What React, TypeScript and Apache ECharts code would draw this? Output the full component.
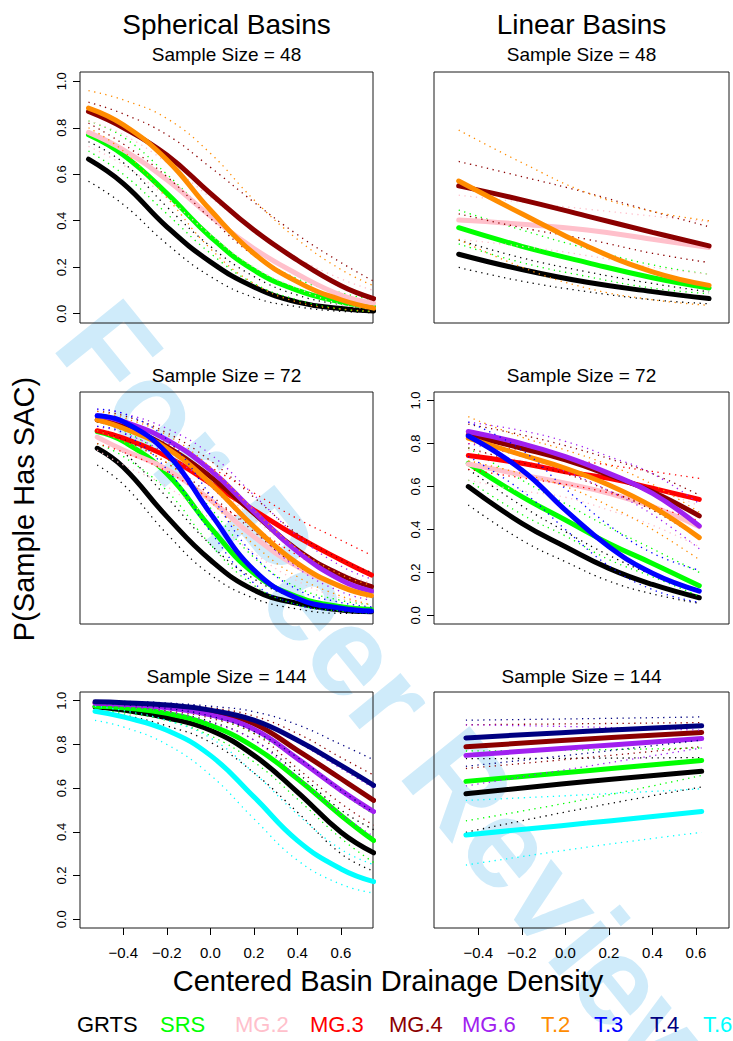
import React, { useEffect, useRef } from "react";
import * as echarts from "echarts";

// ---------- data ----------
const methods = ["GRTS", "SRS", "MG.2", "MG.3", "MG.4", "MG.6", "T.2", "T.3", "T.4", "T.6"];
const methodColors = ["#000000", "#00FF00", "#FFC0CB", "#FF0000", "#8B0000", "#A020F0", "#FF8C00", "#0000FF", "#000080", "#00FFFF"];
const columnTitles = ["Spherical Basins", "Linear Basins"];
const sampleSizes = [48, 72, 144];
const yTicks = [0, 0.2, 0.4, 0.6, 0.8, 1.0];
const xTicks = [-0.4, -0.2, 0, 0.2, 0.4, 0.6];

// Spherical, n = 48
const sph48X = [-0.56, -0.4, -0.2, 0, 0.2, 0.4, 0.6, 0.75];
const sph48Fit: Record<string, number[]> = {
  GRTS: [0.665, 0.56, 0.374, 0.223, 0.115, 0.05, 0.022, 0.012],
  SRS: [0.77, 0.683, 0.518, 0.331, 0.187, 0.1, 0.05, 0.029],
  "MG.2": [0.78, 0.705, 0.576, 0.42, 0.28, 0.17, 0.08, 0.045],
  "MG.4": [0.87, 0.8, 0.683, 0.518, 0.36, 0.23, 0.12, 0.065],
  "T.2": [0.885, 0.813, 0.662, 0.446, 0.259, 0.137, 0.06, 0.024],
};
const sph48Hi: Record<string, number[]> = {
  GRTS: [0.74, 0.65, 0.46, 0.29, 0.16, 0.08, 0.04, 0.03],
  SRS: [0.83, 0.76, 0.6, 0.42, 0.26, 0.15, 0.09, 0.06],
  "MG.2": [0.83, 0.77, 0.65, 0.5, 0.36, 0.24, 0.15, 0.1],
  "MG.4": [0.91, 0.86, 0.77, 0.63, 0.48, 0.34, 0.22, 0.14],
  "T.2": [0.96, 0.92, 0.84, 0.69, 0.49, 0.32, 0.19, 0.12],
};
const sph48Lo: Record<string, number[]> = {
  GRTS: [0.57, 0.47, 0.3, 0.16, 0.07, 0.03, 0.01, 0.005],
  SRS: [0.7, 0.6, 0.43, 0.26, 0.13, 0.06, 0.02, 0.01],
  "MG.2": [0.72, 0.64, 0.5, 0.34, 0.2, 0.11, 0.04, 0.02],
  "MG.4": [0.82, 0.73, 0.59, 0.41, 0.25, 0.14, 0.06, 0.03],
  "T.2": [0.8, 0.7, 0.5, 0.28, 0.13, 0.05, 0.02, 0.01],
};

// Linear, n = 48
const lin48X = [-0.49, -0.2, 0.1, 0.4, 0.66];
const lin48Fit: Record<string, number[]> = {
  GRTS: [0.256, 0.19, 0.135, 0.095, 0.065],
  SRS: [0.37, 0.29, 0.22, 0.155, 0.111],
  "MG.2": [0.403, 0.385, 0.36, 0.32, 0.285],
  "MG.4": [0.55, 0.49, 0.42, 0.35, 0.292],
  "T.2": [0.571, 0.43, 0.29, 0.18, 0.122],
};
const lin48Hi: Record<string, number[]> = {
  GRTS: [0.317, 0.24, 0.18, 0.13, 0.094],
  SRS: [0.446, 0.36, 0.28, 0.21, 0.17],
  "MG.2": [0.51, 0.48, 0.45, 0.42, 0.395],
  "MG.4": [0.655, 0.59, 0.52, 0.44, 0.374],
  "T.2": [0.79, 0.65, 0.52, 0.44, 0.4],
};
const lin48Lo: Record<string, number[]> = {
  GRTS: [0.199, 0.14, 0.095, 0.06, 0.043],
  SRS: [0.3, 0.22, 0.16, 0.11, 0.086],
  "MG.2": [0.32, 0.29, 0.25, 0.2, 0.17],
  "MG.4": [0.43, 0.37, 0.32, 0.26, 0.22],
  "T.2": [0.32, 0.2, 0.11, 0.06, 0.036],
};

// Spherical, n = 72
const sph72X = [-0.52, -0.4, -0.2, 0, 0.2, 0.4, 0.6, 0.74];
const sph72Fit: Record<string, number[]> = {
  GRTS: [0.778, 0.69, 0.46, 0.258, 0.118, 0.056, 0.025, 0.017],
  SRS: [0.856, 0.81, 0.66, 0.41, 0.196, 0.087, 0.04, 0.028],
  "MG.2": [0.83, 0.77, 0.68, 0.537, 0.366, 0.227, 0.135, 0.095],
  "MG.3": [0.86, 0.825, 0.74, 0.615, 0.49, 0.366, 0.258, 0.188],
  "MG.4": [0.91, 0.88, 0.786, 0.646, 0.475, 0.304, 0.188, 0.134],
  "MG.6": [0.929, 0.902, 0.817, 0.677, 0.483, 0.297, 0.165, 0.113],
  "T.2": [0.91, 0.871, 0.778, 0.615, 0.413, 0.242, 0.134, 0.092],
  "T.3": [0.929, 0.902, 0.755, 0.475, 0.211, 0.079, 0.033, 0.02],
};
const sph72Hi: Record<string, number[]> = {
  GRTS: [0.83, 0.76, 0.55, 0.33, 0.17, 0.08, 0.04, 0.03],
  SRS: [0.9, 0.86, 0.73, 0.5, 0.27, 0.13, 0.07, 0.05],
  "MG.2": [0.88, 0.83, 0.75, 0.62, 0.45, 0.3, 0.2, 0.15],
  "MG.3": [0.91, 0.88, 0.8, 0.69, 0.57, 0.45, 0.35, 0.28],
  "MG.4": [0.95, 0.93, 0.85, 0.72, 0.55, 0.38, 0.26, 0.2],
  "MG.6": [0.96, 0.94, 0.87, 0.75, 0.56, 0.37, 0.23, 0.17],
  "T.2": [0.95, 0.92, 0.84, 0.69, 0.49, 0.31, 0.19, 0.14],
  "T.3": [0.96, 0.94, 0.82, 0.56, 0.28, 0.12, 0.06, 0.04],
};
const sph72Lo: Record<string, number[]> = {
  GRTS: [0.7, 0.61, 0.38, 0.19, 0.08, 0.03, 0.01, 0.01],
  SRS: [0.8, 0.74, 0.58, 0.33, 0.14, 0.05, 0.02, 0.01],
  "MG.2": [0.77, 0.7, 0.6, 0.45, 0.29, 0.16, 0.08, 0.05],
  "MG.3": [0.8, 0.76, 0.67, 0.54, 0.41, 0.28, 0.18, 0.12],
  "MG.4": [0.86, 0.82, 0.71, 0.56, 0.39, 0.23, 0.13, 0.08],
  "MG.6": [0.88, 0.85, 0.75, 0.6, 0.4, 0.22, 0.11, 0.07],
  "T.2": [0.86, 0.81, 0.71, 0.53, 0.33, 0.18, 0.09, 0.05],
  "T.3": [0.88, 0.85, 0.68, 0.39, 0.15, 0.05, 0.02, 0.01],
};

// Linear, n = 72
const lin72X = [-0.446, -0.2, 0, 0.2, 0.4, 0.615];
const lin72Fit: Record<string, number[]> = {
  GRTS: [0.6, 0.429, 0.32, 0.219, 0.144, 0.082],
  SRS: [0.708, 0.553, 0.444, 0.335, 0.242, 0.138],
  "MG.2": [0.705, 0.654, 0.615, 0.568, 0.506, 0.413],
  "MG.3": [0.744, 0.708, 0.669, 0.638, 0.592, 0.54],
  "MG.4": [0.84, 0.778, 0.724, 0.654, 0.576, 0.463],
  "MG.6": [0.856, 0.8, 0.739, 0.661, 0.568, 0.416],
  "T.2": [0.825, 0.747, 0.685, 0.607, 0.506, 0.362],
  "T.3": [0.835, 0.677, 0.49, 0.32, 0.196, 0.113],
};
const lin72Hi: Record<string, number[]> = {
  GRTS: [0.68, 0.51, 0.39, 0.28, 0.19, 0.12],
  SRS: [0.78, 0.63, 0.52, 0.41, 0.31, 0.2],
  "MG.2": [0.77, 0.72, 0.68, 0.64, 0.59, 0.51],
  "MG.3": [0.8, 0.77, 0.73, 0.7, 0.67, 0.638],
  "MG.4": [0.89, 0.84, 0.79, 0.73, 0.66, 0.56],
  "MG.6": [0.9, 0.86, 0.81, 0.74, 0.66, 0.52],
  "T.2": [0.925, 0.83, 0.77, 0.7, 0.61, 0.48],
  "T.3": [0.9, 0.77, 0.59, 0.42, 0.29, 0.21],
};
const lin72Lo: Record<string, number[]> = {
  GRTS: [0.514, 0.35, 0.25, 0.16, 0.1, 0.056],
  SRS: [0.63, 0.47, 0.37, 0.26, 0.18, 0.09],
  "MG.2": [0.63, 0.58, 0.55, 0.49, 0.42, 0.32],
  "MG.3": [0.68, 0.64, 0.61, 0.57, 0.51, 0.44],
  "MG.4": [0.78, 0.71, 0.66, 0.58, 0.49, 0.36],
  "MG.6": [0.8, 0.74, 0.67, 0.58, 0.47, 0.31],
  "T.2": [0.72, 0.66, 0.6, 0.51, 0.4, 0.26],
  "T.3": [0.74, 0.58, 0.4, 0.23, 0.12, 0.06],
};

// Spherical, n = 144
const sph144X = [-0.53, -0.4, -0.2, 0, 0.2, 0.4, 0.6, 0.75];
const sph144Fit: Record<string, number[]> = {
  GRTS: [0.972, 0.957, 0.922, 0.865, 0.75, 0.582, 0.398, 0.304],
  SRS: [0.975, 0.968, 0.942, 0.888, 0.789, 0.643, 0.475, 0.36],
  "MG.4": [0.99, 0.987, 0.975, 0.95, 0.895, 0.773, 0.643, 0.544],
  "MG.6": [0.988, 0.984, 0.968, 0.935, 0.87, 0.735, 0.59, 0.493],
  "T.4": [0.995, 0.991, 0.98, 0.957, 0.911, 0.819, 0.704, 0.613],
  "T.6": [0.952, 0.926, 0.865, 0.75, 0.56, 0.36, 0.23, 0.172],
};
const sph144Hi: Record<string, number[]> = {
  GRTS: [0.985, 0.975, 0.95, 0.905, 0.82, 0.67, 0.5, 0.41],
  SRS: [0.985, 0.98, 0.965, 0.925, 0.85, 0.73, 0.58, 0.48],
  "MG.4": [0.995, 0.993, 0.985, 0.968, 0.93, 0.85, 0.74, 0.66],
  "MG.6": [0.994, 0.99, 0.98, 0.96, 0.91, 0.81, 0.69, 0.6],
  "T.4": [0.998, 0.997, 0.99, 0.975, 0.95, 0.89, 0.8, 0.73],
  "T.6": [0.975, 0.955, 0.91, 0.83, 0.67, 0.48, 0.32, 0.25],
};
const sph144Lo: Record<string, number[]> = {
  GRTS: [0.955, 0.935, 0.885, 0.81, 0.67, 0.49, 0.3, 0.22],
  SRS: [0.955, 0.945, 0.91, 0.84, 0.72, 0.55, 0.37, 0.26],
  "MG.4": [0.98, 0.975, 0.955, 0.92, 0.85, 0.69, 0.53, 0.43],
  "MG.6": [0.975, 0.97, 0.95, 0.9, 0.82, 0.65, 0.48, 0.38],
  "T.4": [0.99, 0.982, 0.965, 0.93, 0.86, 0.74, 0.59, 0.49],
  "T.6": [0.91, 0.88, 0.8, 0.66, 0.46, 0.27, 0.16, 0.12],
};

// Linear, n = 144
const lin144X = [-0.457, 0.1, 0.626];
const lin144Fit: Record<string, number[]> = {
  GRTS: [0.574, 0.63, 0.677],
  SRS: [0.631, 0.68, 0.727],
  "MG.4": [0.789, 0.825, 0.855],
  "MG.6": [0.75, 0.79, 0.827],
  "T.4": [0.83, 0.86, 0.885],
  "T.6": [0.386, 0.44, 0.493],
};
const lin144Hi: Record<string, number[]> = {
  GRTS: [0.735, 0.737, 0.74],
  SRS: [0.77, 0.775, 0.784],
  "MG.4": [0.89, 0.895, 0.9],
  "MG.6": [0.89, 0.88, 0.865],
  "T.4": [0.911, 0.918, 0.926],
  "T.6": [0.544, 0.57, 0.597],
};
const lin144Lo: Record<string, number[]> = {
  GRTS: [0.398, 0.51, 0.605],
  SRS: [0.45, 0.55, 0.658],
  "MG.4": [0.69, 0.74, 0.79],
  "MG.6": [0.61, 0.7, 0.784],
  "T.4": [0.7, 0.76, 0.82],
  "T.6": [0.248, 0.33, 0.398],
};

// ---------- layout ----------
const FONT = '"Liberation Sans", Arial, Helvetica, sans-serif';
const panels = [
  { xs: sph48X, fit: sph48Fit, hi: sph48Hi, lo: sph48Lo, left: 80, top: 72, width: 293, height: 251, xMin: -0.599, xMax: 0.747, showY: true, showX: false },
  { xs: lin48X, fit: lin48Fit, hi: lin48Hi, lo: lin48Lo, left: 434, top: 72, width: 295, height: 251, xMin: -0.6035, xMax: 0.7515, showY: false, showX: false },
  { xs: sph72X, fit: sph72Fit, hi: sph72Hi, lo: sph72Lo, left: 80, top: 392, width: 293, height: 232, xMin: -0.599, xMax: 0.747, showY: false, showX: false },
  { xs: lin72X, fit: lin72Fit, hi: lin72Hi, lo: lin72Lo, left: 434, top: 392, width: 295, height: 232, xMin: -0.6035, xMax: 0.7515, showY: true, showX: false },
  { xs: sph144X, fit: sph144Fit, hi: sph144Hi, lo: sph144Lo, left: 80, top: 692, width: 293, height: 236, xMin: -0.599, xMax: 0.747, showY: true, showX: true },
  { xs: lin144X, fit: lin144Fit, hi: lin144Hi, lo: lin144Lo, left: 434, top: 692, width: 295, height: 236, xMin: -0.6035, xMax: 0.7515, showY: false, showX: true },
];
const legendLeft = [77, 160, 235, 310, 389, 462, 541, 594, 650, 703];

function fmt(v: number) {
  const s = Math.abs(v).toFixed(1);
  return v < -1e-9 ? "\u2212" + s : s;
}

function txt(text: string, x: number, y: number, font: string, fill = "#000", align = "center", extra: any = {}) {
  return {
    type: "text",
    x,
    y,
    silent: true,
    ...extra,
    style: { text, font, fill, textAlign: align, textVerticalAlign: "middle", align, verticalAlign: "middle" },
  };
}

function buildOption() {
  const grid: any[] = [];
  const xAxis: any[] = [];
  const yAxis: any[] = [];
  const series: any[] = [];
  const graphic: any[] = [];

  // watermark (behind everything)
  graphic.push(txt("For Peer Review", 395, 703, `bold 127px ${FONT}`, "#CFEBFA", "center", { rotation: -0.89, z: -10 }));

  panels.forEach((p, gi) => {
    grid.push({
      left: p.left,
      top: p.top,
      width: p.width,
      height: p.height,
      show: true,
      borderColor: "#1a1a1a",
      borderWidth: 1,
      backgroundColor: "transparent",
      containLabel: false,
      outerBoundsMode: "none",
    });
    xAxis.push({
      gridIndex: gi,
      type: "value",
      min: p.xMin,
      max: p.xMax,
      axisLine: { show: false, onZero: false },
      splitLine: { show: false },
      axisTick: { show: p.showX, length: 7, inside: false, customValues: xTicks, lineStyle: { color: "#000", width: 1 } },
      axisLabel: { show: p.showX, customValues: xTicks, formatter: fmt, fontSize: 15, color: "#000", margin: 17, fontFamily: FONT },
    });
    yAxis.push({
      gridIndex: gi,
      type: "value",
      min: -0.04,
      max: 1.04,
      axisLine: { show: false, onZero: false },
      splitLine: { show: false },
      axisTick: { show: p.showY, length: 7, inside: false, customValues: yTicks, lineStyle: { color: "#000", width: 1 } },
      axisLabel: { show: p.showY, customValues: yTicks, formatter: (v: number) => v.toFixed(1), fontSize: 13, color: "#000", margin: 12, rotate: 90, fontFamily: FONT },
    });

    methods.forEach((m, mi) => {
      const fit = p.fit[m];
      if (!fit) return;
      const color = methodColors[mi];
      const mk = (arr: number[]) => p.xs.map((x, i) => [x, arr[i]]);
      series.push({
        name: m,
        type: "line",
        xAxisIndex: gi,
        yAxisIndex: gi,
        data: mk(fit),
        smooth: 0.45,
        showSymbol: false,
        symbol: "none",
        silent: true,
        lineStyle: { color, width: 5, cap: "round" },
      });
      [p.hi[m], p.lo[m]].forEach((band, bi) => {
        if (!band) return;
        series.push({
          name: m + (bi === 0 ? " upper" : " lower"),
          type: "line",
          xAxisIndex: gi,
          yAxisIndex: gi,
          data: mk(band),
          smooth: 0.45,
          showSymbol: false,
          symbol: "none",
          silent: true,
          lineStyle: { color, width: 1.3, type: [1.3, 4.5] },
        });
      });
    });
  });

  // column titles
  const colCenters = [226.5, 581.5];
  columnTitles.forEach((t, i) => graphic.push(txt(t, colCenters[i], 24, `28px ${FONT}`)));
  // panel titles
  const rowTitleY = [54, 375, 676];
  sampleSizes.forEach((n, r) => {
    colCenters.forEach((cx) => graphic.push(txt(`Sample Size = ${n}`, cx, rowTitleY[r], `19px ${FONT}`)));
  });
  // axis titles
  graphic.push(txt("Centered Basin Drainage Density", 388, 981, `29px ${FONT}`));
  graphic.push(txt("P(Sample Has SAC)", 24, 509, `29px ${FONT}`, "#000", "center", { rotation: Math.PI / 2 }));
  // legend
  methods.forEach((m, i) => graphic.push(txt(m, legendLeft[i], 1024, `22px ${FONT}`, methodColors[i], "left")));

  return {
    animation: false,
    backgroundColor: "#ffffff",
    textStyle: { fontFamily: FONT },
    grid,
    xAxis,
    yAxis,
    series,
    graphic,
  };
}

export default function App() {
  const ref = useRef<HTMLDivElement>(null);
  useEffect(() => {
    document.body.style.margin = "0";
    if (!ref.current) return;
    const chart = echarts.init(ref.current, undefined, { renderer: "svg" });
    chart.setOption(buildOption() as any);
    return () => chart.dispose();
  }, []);
  return <div ref={ref} style={{ position: "absolute", left: 0, top: 0, width: 733, height: 1041 }} />;
}
